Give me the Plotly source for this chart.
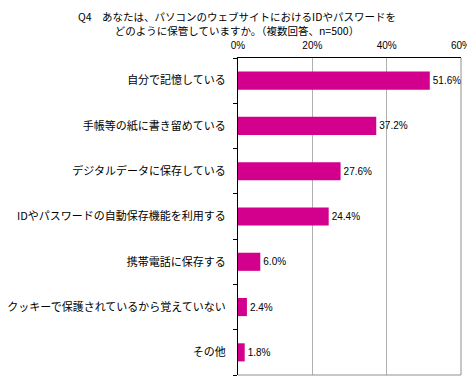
import plotly.graph_objects as go

categories = ["自分で記憶している", "手帳等の紙に書き留めている", "デジタルデータに保存している",
              "IDやパスワードの自動保存機能を利用する", "携帯電話に保存する",
              "クッキーで保護されているから覚えていない", "その他"]
values = [51.6, 37.2, 27.6, 24.4, 6.0, 2.4, 1.8]
tick_vals = [0, 20, 40, 60]
tick_text = ["0%", "20%", "40%", "60%"]
title_lines = ["Q4　あなたは、パソコンのウェブサイトにおけるIDやパスワードを",
               "どのように保管していますか。（複数回答、n=500）"]

font_jp = "Noto Sans CJK JP"

fig = go.Figure(go.Bar(
    y=categories, x=values, orientation="h",
    marker=dict(color="#D2008C", line=dict(width=0)),
    width=0.4,
    text=[f"{v:.1f}%" for v in values], textposition="outside",
    textfont=dict(size=10, color="#000000", family="Liberation Sans"),
    cliponaxis=False,
))

# page body has an 8px default margin, so the figure is sized to fit the window
fig.update_layout(
    width=467, height=373,
    margin=dict(l=230, r=14, t=50, b=6, autoexpand=False),
    paper_bgcolor="white", plot_bgcolor="white",
    showlegend=False,
    font=dict(family=font_jp, size=11, color="#000000"),
    xaxis=dict(side="top", range=[0, 60], tickvals=tick_vals, ticktext=tick_text,
               showgrid=True, gridcolor="#B0B0B0", gridwidth=1,
               showline=True, linecolor="#000000", linewidth=1,
               ticks="", zeroline=False, automargin=False, ticklabelstandoff=4,
               tickfont=dict(size=10, family="Liberation Sans")),
    yaxis=dict(categoryorder="array", categoryarray=categories[::-1],
               showline=True, linecolor="#000000", linewidth=1,
               ticks="outside", tickson="boundaries", ticklen=4, tickcolor="#000000",
               ticklabelstandoff=9, showgrid=False, automargin=False,
               tickfont=dict(size=11, family=font_jp)),
    shapes=[
        dict(type="line", xref="paper", yref="paper", x0=1, x1=1, y0=0, y1=1,
             line=dict(color="#909090", width=1)),
        dict(type="line", xref="paper", yref="paper", x0=0, x1=1, y0=0, y1=0,
             line=dict(color="#909090", width=1)),
    ],
    annotations=[
        dict(text="<br>".join(title_lines), xref="paper", yref="paper", x=-0.005, y=1,
             xanchor="center", yanchor="top", yshift=50, showarrow=False,
             align="center", borderpad=0,
             font=dict(size=10.5, family=font_jp)),
    ],
)

fig.write_html("out.html")
